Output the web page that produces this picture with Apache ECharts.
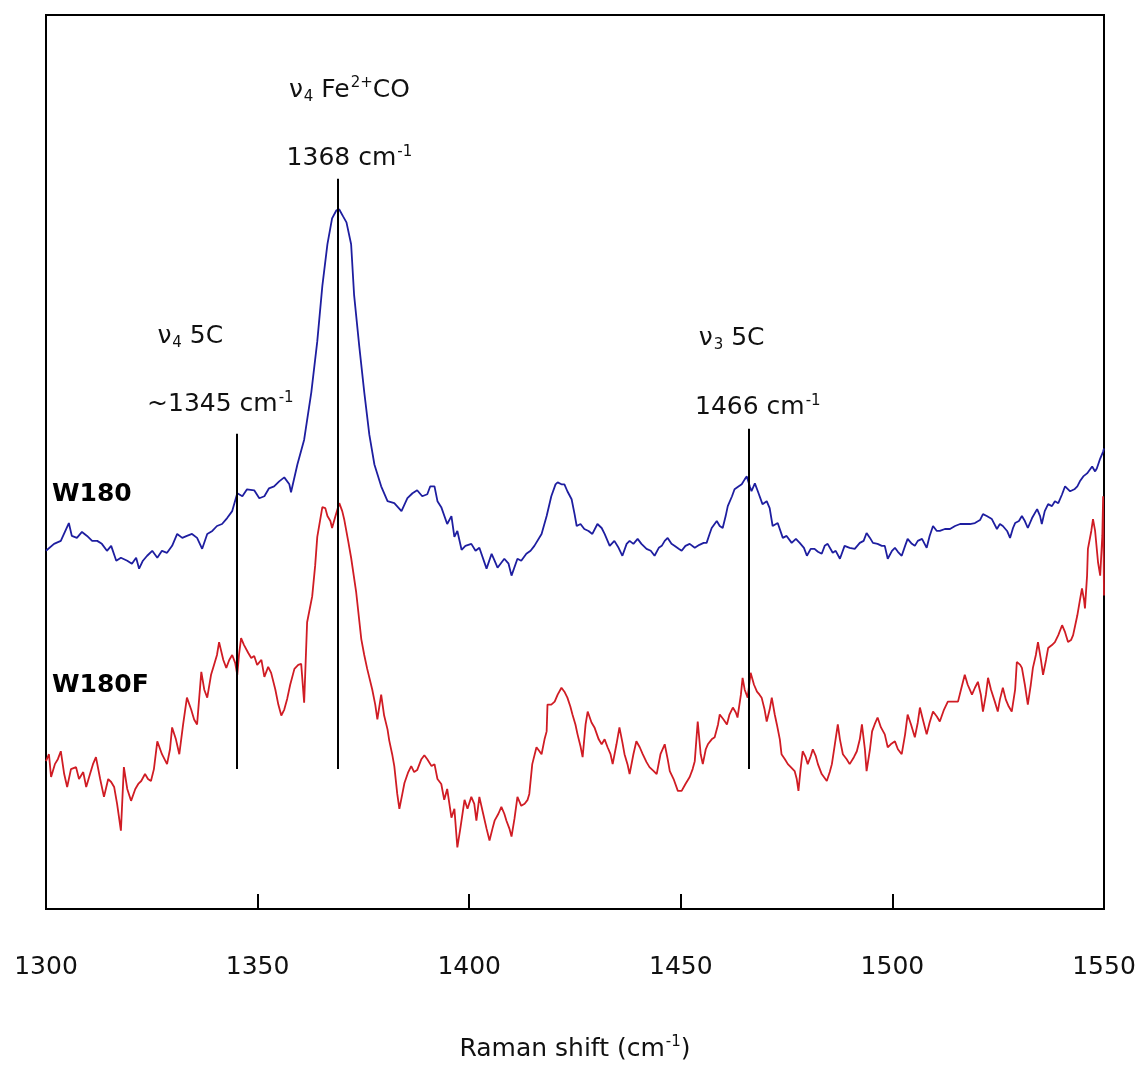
<!DOCTYPE html>
<html><head><meta charset="utf-8">
<script src="https://cdn.jsdelivr.net/npm/echarts/dist/echarts.min.js"></script>
<style>html,body{margin:0;padding:0;background:#fff}#c{width:1139px;height:1067px}</style>
</head><body><div id="c"></div>
<script>
// Raman shift (cm-1) vs intensity (arbitrary units, offset traces)
const xTickMin = 1300, xTickMax = 1550, xTickStep = 50;

const w180 = [
[1300.0,361],[1301.9,368],[1303.5,371],[1305.4,389],[1306.1,376],[1307.3,374],[1308.5,380],[1309.7,376],[1310.9,371],[1312.1,371],
[1313.2,368],[1314.4,361],[1315.4,366],[1316.6,351],[1317.7,354],[1319.2,351],[1320.3,348],[1321.3,354],[1322.0,343],[1322.9,351],
[1323.9,356],[1325.1,361],[1326.3,354],[1327.4,361],[1328.6,359],[1329.8,366],[1331.0,378],[1332.2,374],[1333.3,376],[1334.5,378],
[1335.7,374],[1336.9,363],[1338.1,378],[1339.3,381],[1340.4,386],[1341.6,388],[1342.8,394],[1344.0,401],[1345.2,419],[1346.4,416],
[1347.5,423],[1349.2,422],[1350.4,414],[1351.6,416],[1352.7,424],[1353.9,426],[1355.1,431],[1356.3,435],[1357.5,428],[1357.9,420],
[1359.4,448],[1361.0,473],[1362.7,521],[1364.1,572],[1365.3,628],[1366.5,670],[1367.6,696],[1368.6,704],[1369.3,705],[1370.2,698],
[1371.0,692],[1372.1,670],[1372.8,619],[1374.0,568],[1375.2,521],[1376.4,478],[1377.6,448],[1379.2,426],[1380.7,411],[1382.3,409],
[1384.0,401],[1385.4,414],[1386.6,419],[1387.7,422],[1388.9,416],[1390.1,418],[1390.8,426],[1391.8,426],[1392.5,411],[1393.4,405],
[1394.8,388],[1395.8,396],[1396.5,375],[1397.2,381],[1398.2,362],[1399.1,366],[1400.5,368],[1401.5,361],[1402.4,364],[1404.1,343],
[1405.3,358],[1406.0,351],[1406.7,344],[1408.3,353],[1409.3,348],[1410.0,336],[1411.4,353],[1412.3,351],[1413.5,358],[1414.5,361],
[1415.4,366],[1417.1,378],[1418.3,396],[1419.4,416],[1420.4,428],[1420.9,430],[1421.8,428],[1422.5,428],[1423.2,421],[1424.2,413],
[1424.9,398],[1425.4,386],[1426.3,388],[1427.2,383],[1428.2,381],[1429.1,378],[1430.3,388],[1431.3,384],[1432.0,378],[1433.2,366],
[1434.3,371],[1435.3,364],[1436.2,356],[1437.2,368],[1437.9,371],[1438.8,368],[1439.8,373],[1440.7,368],[1441.9,363],[1442.9,361],
[1443.8,356],[1444.8,364],[1445.5,366],[1446.2,371],[1446.9,374],[1447.8,368],[1448.5,366],[1449.5,363],[1450.2,361],[1451.1,366],
[1452.1,368],[1453.3,364],[1454.4,367],[1455.4,369],[1456.1,369],[1456.8,378],[1457.3,384],[1458.5,391],[1459.2,386],[1459.9,384],
[1460.6,396],[1461.1,406],[1462.1,416],[1462.7,423],[1463.7,426],[1464.4,428],[1465.1,433],[1465.6,436],[1466.3,426],[1466.7,421],
[1467.5,429],[1468.2,421],[1469.3,408],[1470.3,411],[1471.0,404],[1471.7,386],[1472.9,389],[1474.1,374],[1475.0,376],[1476.2,369],
[1477.2,373],[1478.1,369],[1479.1,364],[1479.8,356],[1480.7,363],[1481.6,363],[1482.4,360],[1483.3,358],[1484.0,366],[1484.7,368],
[1485.9,359],[1486.6,361],[1487.6,353],[1488.7,366],[1489.9,364],[1491.1,363],[1492.3,369],[1493.2,371],[1493.9,379],[1494.7,374],
[1495.4,369],[1496.5,368],[1497.5,366],[1498.2,366],[1498.9,353],[1499.9,361],[1500.6,364],[1501.3,360],[1502.2,356],[1503.0,366],
[1503.6,373],[1504.6,368],[1505.3,366],[1506.0,371],[1507.0,373],[1508.1,364],[1508.8,376],[1509.6,386],[1510.5,381],[1511.2,381],
[1512.4,383],[1513.6,383],[1514.8,386],[1516.0,388],[1517.1,388],[1518.3,388],[1519.5,389],[1520.7,392],[1521.4,398],[1522.3,396],
[1523.5,393],[1524.7,383],[1525.4,388],[1526.1,386],[1527.1,381],[1527.8,374],[1528.5,384],[1529.0,389],[1529.9,391],[1530.6,396],
[1531.3,391],[1532.0,384],[1533.0,394],[1534.2,403],[1534.9,396],[1535.3,388],[1536.0,401],[1536.8,408],[1537.7,406],[1538.4,411],
[1539.2,409],[1540.1,418],[1540.8,426],[1542.0,421],[1543.0,423],[1543.7,426],[1544.3,431],[1545.1,436],[1546.0,439],[1547.2,446],
[1547.9,441],[1548.3,444],[1549.1,454],[1549.8,461],[1550.0,464]
];

const w180f = [
[1300.0,149],[1300.7,156],[1301.2,133],[1302.1,146],[1302.8,151],[1303.5,159],[1304.3,136],[1305.0,123],[1305.9,141],[1307.1,143],
[1307.8,131],[1308.8,138],[1309.5,123],[1310.4,136],[1311.1,146],[1311.8,153],[1312.8,131],[1313.7,113],[1314.7,131],[1315.4,128],
[1316.1,123],[1316.8,106],[1317.7,79],[1318.4,143],[1319.2,121],[1320.1,109],[1321.1,121],[1321.8,126],[1322.5,129],[1323.4,136],
[1324.1,131],[1324.8,129],[1325.5,141],[1326.3,169],[1327.4,156],[1328.6,146],[1329.3,161],[1329.8,183],[1330.7,171],[1331.5,156],
[1332.4,186],[1333.3,213],[1334.3,201],[1335.0,191],[1335.7,186],[1336.7,239],[1337.4,221],[1338.1,213],[1339.0,236],[1339.7,246],
[1340.4,256],[1340.9,269],[1341.9,251],[1342.6,243],[1343.3,251],[1344.0,256],[1344.7,248],[1345.2,236],[1345.6,256],[1346.1,273],
[1346.8,266],[1347.8,258],[1348.5,253],[1349.2,255],[1349.9,246],[1350.9,251],[1351.6,234],[1352.5,244],[1353.2,238],[1354.2,221],
[1354.9,206],[1355.6,195],[1356.3,201],[1357.0,212],[1357.7,226],[1358.7,242],[1359.6,246],[1360.3,247],[1361.0,208],[1361.7,289],
[1362.9,315],[1363.6,346],[1364.1,375],[1365.3,405],[1366.0,404],[1366.5,396],[1367.2,391],[1367.6,384],[1368.4,396],[1369.3,409],
[1370.0,401],[1370.5,392],[1371.4,371],[1372.1,354],[1373.3,319],[1374.5,272],[1375.2,256],[1375.9,242],[1377.1,221],[1377.8,206],
[1378.3,191],[1379.2,216],[1379.9,195],[1380.7,181],[1381.1,170],[1381.8,156],[1382.3,144],[1383.0,116],[1383.5,101],[1384.2,116],
[1384.7,127],[1385.6,138],[1386.3,144],[1387.0,138],[1387.7,140],[1388.7,151],[1389.4,155],[1390.1,151],[1391.1,144],[1391.8,146],
[1392.5,131],[1393.4,126],[1394.1,110],[1394.8,121],[1395.8,92],[1396.5,101],[1397.2,62],[1397.9,81],[1398.9,110],[1399.6,101],
[1400.5,113],[1401.2,106],[1401.7,89],[1402.4,113],[1403.3,96],[1404.1,81],[1404.8,69],[1405.5,81],[1406.0,89],[1406.9,96],
[1407.6,103],[1408.3,96],[1408.8,89],[1409.5,81],[1410.0,73],[1410.7,91],[1411.4,113],[1412.3,104],[1413.1,106],[1413.8,110],
[1414.2,116],[1414.9,146],[1415.9,163],[1416.6,159],[1417.1,156],[1417.8,171],[1418.3,179],[1418.5,206],[1419.4,206],[1420.2,209],
[1420.9,216],[1421.8,223],[1422.5,219],[1423.2,213],[1423.9,204],[1424.4,196],[1425.1,186],[1425.6,176],[1426.3,164],[1426.8,153],
[1427.5,186],[1428.0,199],[1428.9,188],[1429.6,183],[1430.6,171],[1431.3,166],[1432.0,171],[1432.7,163],[1433.4,156],[1433.9,146],
[1434.8,166],[1435.5,183],[1436.2,168],[1436.7,156],[1437.4,146],[1437.9,136],[1438.8,156],[1439.5,169],[1440.3,163],[1441.0,156],
[1441.9,148],[1442.6,143],[1443.6,139],[1444.3,136],[1445.2,156],[1446.2,166],[1446.9,151],[1447.4,139],[1448.3,131],[1449.3,119],
[1450.2,119],[1451.1,126],[1452.1,133],[1452.8,141],[1453.3,149],[1454.0,189],[1454.7,156],[1455.2,146],[1455.9,161],[1456.4,166],
[1457.3,171],[1458.0,173],[1458.8,186],[1459.2,196],[1460.1,191],[1460.9,186],[1461.5,196],[1462.3,203],[1463.0,198],[1463.4,193],
[1464.2,216],[1464.6,233],[1465.1,221],[1465.8,213],[1466.5,238],[1467.3,226],[1468.0,219],[1468.6,216],[1469.1,213],[1469.8,201],
[1470.3,189],[1471.0,201],[1471.5,213],[1472.2,196],[1472.7,186],[1473.4,171],[1473.8,156],[1474.6,151],[1475.3,146],[1476.0,143],
[1476.9,139],[1477.4,131],[1477.8,119],[1478.3,141],[1478.8,159],[1479.5,153],[1480.0,146],[1480.7,154],[1481.2,161],[1481.9,154],
[1482.4,146],[1483.3,136],[1484.5,129],[1485.2,138],[1485.7,146],[1486.4,166],[1487.1,186],[1487.6,171],[1488.3,156],[1489.2,151],
[1489.9,146],[1490.9,153],[1491.6,159],[1492.3,171],[1492.8,186],[1493.5,161],[1493.9,139],[1494.7,161],[1495.2,179],[1495.8,186],
[1496.5,193],[1497.3,183],[1498.2,176],[1498.9,163],[1499.6,166],[1500.6,169],[1501.3,161],[1502.2,156],[1503.0,176],[1503.6,196],
[1504.4,186],[1505.3,173],[1506.0,188],[1506.5,203],[1507.2,191],[1508.1,176],[1508.8,188],[1509.6,199],[1510.5,194],[1511.2,189],
[1512.2,201],[1513.1,209],[1514.3,209],[1515.5,209],[1516.2,221],[1517.1,236],[1517.8,226],[1518.8,216],[1519.5,223],[1520.2,229],
[1520.9,216],[1521.4,199],[1522.1,216],[1522.6,233],[1523.3,221],[1524.2,209],[1524.9,199],[1525.4,211],[1526.1,223],[1526.8,211],
[1527.5,204],[1528.2,199],[1529.0,221],[1529.4,249],[1530.2,246],[1530.6,243],[1531.3,226],[1532.0,206],[1532.7,226],[1533.2,243],
[1533.9,256],[1534.4,269],[1535.1,251],[1535.6,236],[1536.3,251],[1536.8,263],[1537.7,266],[1538.4,269],[1539.2,276],[1540.1,286],
[1540.8,279],[1541.5,269],[1542.2,271],[1542.7,276],[1543.2,286],[1543.7,296],[1544.3,311],[1544.8,323],[1545.3,311],[1545.5,303],
[1546.0,336],[1546.2,363],[1547.0,381],[1547.4,393],[1547.9,381],[1548.6,349],[1549.1,336],[1549.6,376],[1549.8,416],[1550.0,316]
];

// band marker lines (Raman shift), their top ends and common bottom
const bandPositions = [1345, 1369, 1466];
const bandTops = [479, 736, 484];
const bandBottom = 141;

// annotation texts anchored in data coordinates
const annotTexts = [
  '{t|ν}{sub|4}{t| Fe}{sup|2+}{t|CO}',
  '{t|1368 cm}{sup|-1}',
  '{t|ν}{sub|4}{t| 5C}',
  '{t|~1345 cm}{sup|-1}',
  '{t|ν}{sub|3}{t| 5C}',
  '{t|1466 cm}{sup|-1}',
  '{b|W180}',
  '{b|W180F}'
];
const annotX = [1371.7, 1371.7, 1334.1, 1341.2, 1462.0, 1468.2, 1301.4, 1301.4];
const annotY = [825, 756, 577, 508, 575, 505, 418, 225];
const annotAlign = ['center','center','center','center','center','center','left','left'];

const FONT = 'DejaVu Sans';
const INK = '#111111';
const rich = {
  t: {fontSize: 25, fontFamily: FONT, color: INK},
  sup: {fontSize: 15, fontFamily: FONT, color: INK, padding: [0, 0, 14, 1]},
  sub: {fontSize: 15, fontFamily: FONT, color: INK, padding: [14, 0, 0, 1]},
  b: {fontSize: 25, fontFamily: FONT, fontWeight: 'bold', color: '#000'}
};

const chart = echarts.init(document.getElementById('c'), null, {renderer: 'canvas'});
chart.setOption({
  animation: false,
  backgroundColor: '#fff',
  grid: {left: 46, right: 35, top: 15, bottom: 151, show: true, borderColor: '#000', borderWidth: 2},
  xAxis: {
    type: 'value', min: xTickMin, max: xTickMax, interval: xTickStep,
    axisLine: {show: true, lineStyle: {color: '#000', width: 2}},
    axisTick: {show: true, inside: true, length: 15, lineStyle: {color: '#000', width: 2}},
    axisLabel: {margin: 46, fontSize: 25, fontFamily: FONT, color: INK, formatter: v => String(v)},
    splitLine: {show: false},
    name: '{t|Raman shift (cm}{sup|-1}{t|)}',
    nameLocation: 'middle', nameGap: 126,
    nameTextStyle: {rich: rich}
  },
  yAxis: {type: 'value', min: 0, max: 901, show: false, splitLine: {show: false}},
  series: [
    {
      name: 'W180', type: 'line', data: w180, showSymbol: false, silent: true,
      lineStyle: {color: '#1e1ea0', width: 1.8}, itemStyle: {color: '#1e1ea0'},
      markLine: {
        silent: true, symbol: ['none', 'none'], animation: false,
        lineStyle: {color: '#000', width: 2, type: 'solid', opacity: 1},
        label: {show: false},
        data: bandPositions.map((x, i) => [{coord: [x, bandBottom]}, {coord: [x, bandTops[i]]}])
      }
    },
    {
      name: 'W180F', type: 'line', data: w180f, showSymbol: false, silent: true,
      lineStyle: {color: '#d01c24', width: 1.8}, itemStyle: {color: '#d01c24'}
    },
    {
      name: 'annotations', type: 'scatter', symbolSize: 0, silent: true, z: 10,
      itemStyle: {opacity: 1},
      data: annotTexts.map((t, i) => ({
        value: [annotX[i], annotY[i]],
        label: {show: true, position: 'inside', formatter: t, align: annotAlign[i], verticalAlign: 'middle', rich: rich, opacity: 1}
      }))
    }
  ]
});
</script></body></html>
